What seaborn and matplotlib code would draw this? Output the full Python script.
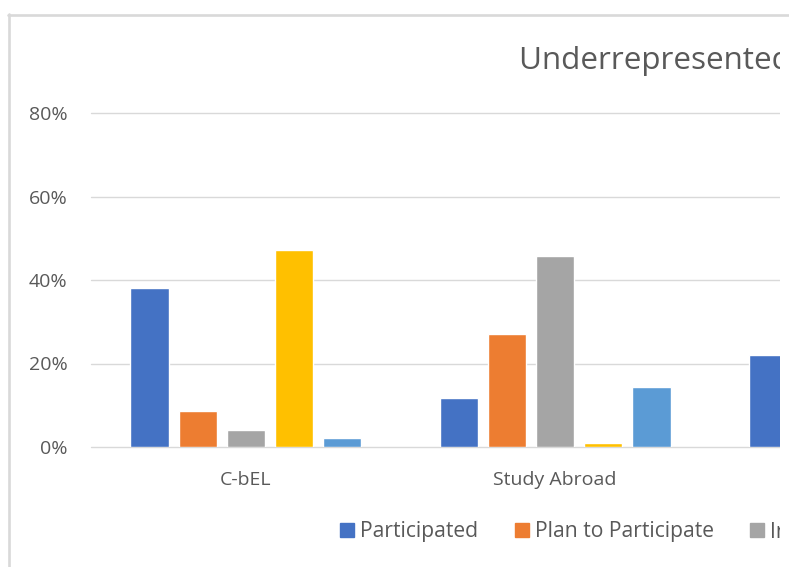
import numpy as np
import pandas as pd
import seaborn as sns
import matplotlib.pyplot as plt
from matplotlib.patches import Rectangle, Patch
from matplotlib.lines import Line2D
from matplotlib.ticker import PercentFormatter

categories = ["C-bEL", "Study Abroad", "Internship"]
series = ["Participated", "Plan to Participate", "Interested", "Not Interested", "Not Aware"]
colors = ["#4472C4", "#ED7D31", "#A5A5A5", "#FFC000", "#5B9BD5"]

# values (third group is cut off, only its first bar shows)
participated = [0.38, 0.118, 0.221]
plan_to_participate = [0.086, 0.271]
interested = [0.041, 0.457]
not_interested = [0.471, 0.009]
not_aware = [0.022, 0.143]

rows = []
for name, vals in zip(series, [participated, plan_to_participate, interested, not_interested, not_aware]):
    for cat, v in zip(categories, vals):
        rows.append({"Category": cat, "Series": name, "Value": v})
df = pd.DataFrame(rows)

sns.set_style("white")
plt.rcParams['font.family'] = ['Open Sans', 'DejaVu Sans']
grey_text = '#595959'

W, H = 789, 567
fig = plt.figure(figsize=(W / 100, H / 100), dpi=100)
ax = fig.add_axes([91 / W, (H - 447) / H, 928.5 / W, 334 / H])

sns.barplot(data=df, x="Category", y="Value", hue="Series", order=categories,
            hue_order=series, palette=colors, width=0.776, gap=0.2, saturation=1,
            errorbar=None, legend=False, ax=ax)

ax.set_xlim(-0.5, 2.5)
ax.set_ylim(0, 0.8)
ax.set_yticks([0, 0.2, 0.4, 0.6, 0.8])
ax.yaxis.set_major_formatter(PercentFormatter(1.0, decimals=0))
ax.grid(axis='y', color='#d9d9d9', lw=1.0, clip_on=False)
ax.set_axisbelow(True)
sns.despine(ax=ax, left=True, bottom=True)
ax.tick_params(length=0, labelsize=14, colors=grey_text)
ax.tick_params(axis='y', pad=17)
ax.tick_params(axis='x', pad=17)
ax.set_xlabel('')
ax.set_ylabel('')

fig.text(519 / W, 1 - 69 / H, "Underrepresented Students", ha='left', va='baseline',
         fontsize=22.6, color=grey_text)

handles = [Patch(color=c, label=s) for c, s in zip(colors, series)]
fig.legend(handles=handles, loc='center left', bbox_to_anchor=(340 / W, 1 - 532 / H),
           ncol=5, frameon=False, fontsize=15.2, handlelength=0.66, handleheight=0.66,
           handletextpad=0.28, columnspacing=1.74, borderpad=0, borderaxespad=0,
           labelcolor=grey_text)

# chart is cut at the right, white strip + chart-area border
fig.add_artist(Rectangle((780 / W, 0), 9 / W, (H - 17) / H, transform=fig.transFigure,
                         facecolor='white', edgecolor='none', zorder=20))
fig.add_artist(Line2D([9 / W, 9 / W], [0, 1 - 13.5 / H], transform=fig.transFigure,
                      color='#d9d9d9', lw=1.9, zorder=21))
fig.add_artist(Line2D([8.3 / W, 1], [1 - 14.5 / H, 1 - 14.5 / H], transform=fig.transFigure,
                      color='#d9d9d9', lw=1.9, zorder=21))

fig.savefig("out.png", dpi=100)
